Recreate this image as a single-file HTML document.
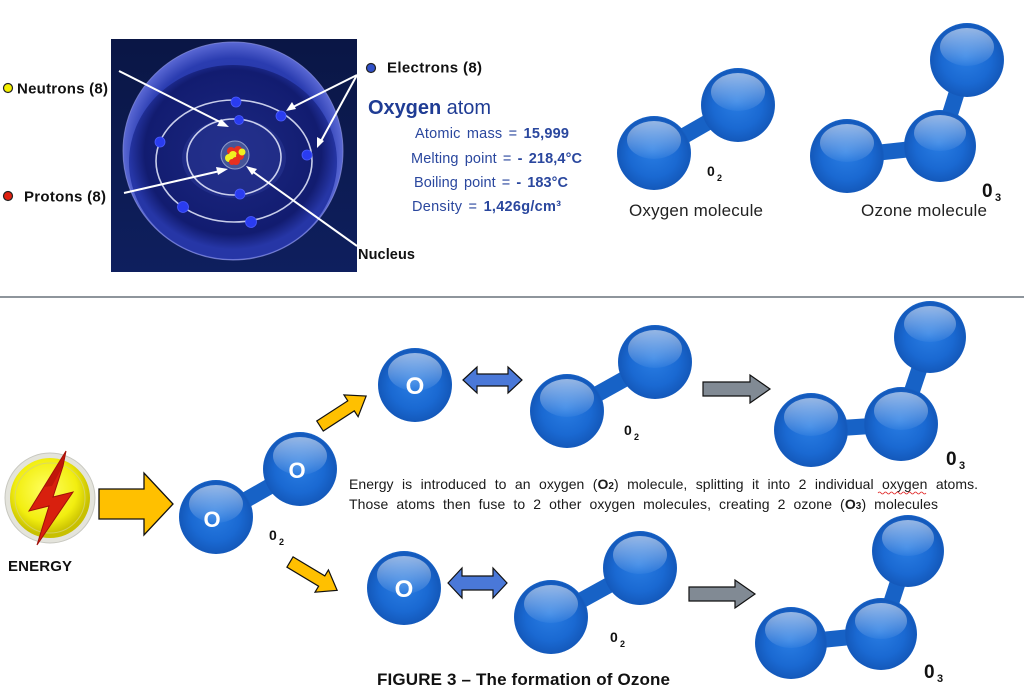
<!DOCTYPE html>
<html><head><meta charset="utf-8">
<style>
html,body{margin:0;padding:0;background:#fff;}
svg{display:block;}
text{font-family:"Liberation Sans",Arial,sans-serif;}
</style></head>
<body>
<svg width="1024" height="698" viewBox="0 0 1024 698" xmlns="http://www.w3.org/2000/svg">
<defs>
  <radialGradient id="sph" cx="50%" cy="52%" r="55%" fx="48%" fy="45%">
    <stop offset="0" stop-color="#2a7ee4"/>
    <stop offset="0.6" stop-color="#1a69d2"/>
    <stop offset="0.88" stop-color="#1459bb"/>
    <stop offset="1" stop-color="#1a6fd8"/>
  </radialGradient>
  <linearGradient id="hl" x1="0" y1="0" x2="0" y2="1">
    <stop offset="0" stop-color="#fff" stop-opacity="0.55"/>
    <stop offset="1" stop-color="#fff" stop-opacity="0.04"/>
  </linearGradient>
  <linearGradient id="bg" x1="0" y1="0" x2="0" y2="1">
    <stop offset="0" stop-color="#0a1645"/>
    <stop offset="1" stop-color="#0e1f5e"/>
  </linearGradient>
  <radialGradient id="bowl" cx="50%" cy="50%" r="50%">
    <stop offset="0" stop-color="#1b2a8c"/>
    <stop offset="0.85" stop-color="#2a3cb0"/>
    <stop offset="1" stop-color="#5a68d4"/>
  </radialGradient>
  <radialGradient id="inner" cx="50%" cy="45%" r="50%">
    <stop offset="0" stop-color="#1c2882"/>
    <stop offset="0.85" stop-color="#121c70"/>
    <stop offset="1" stop-color="#2636a6"/>
  </radialGradient>
  <radialGradient id="yel" cx="45%" cy="40%" r="55%">
    <stop offset="0" stop-color="#ffff60"/>
    <stop offset="0.7" stop-color="#f2ee10"/>
    <stop offset="1" stop-color="#c8c000"/>
  </radialGradient>
  <g id="s37">
    <circle r="37" fill="url(#sph)"/>
    <ellipse cy="-13" rx="27" ry="19" fill="url(#hl)"/>
  </g>
  <g id="s36">
    <circle r="36" fill="url(#sph)"/>
    <ellipse cy="-13" rx="26" ry="18" fill="url(#hl)"/>
  </g>
</defs>

<!-- ===== ATOM IMAGE ===== -->
<rect x="111" y="39" width="246" height="233" fill="url(#bg)"/>
<ellipse cx="233" cy="151" rx="110" ry="109" fill="url(#bowl)" stroke="#8a92e0" stroke-opacity="0.7" stroke-width="1"/>
<ellipse cx="233" cy="162" rx="104" ry="97" fill="url(#inner)"/>
<ellipse cx="234" cy="158" rx="52" ry="40" fill="#2a3794" opacity="0.55"/>
<ellipse cx="234" cy="157" rx="47" ry="38" fill="none" stroke="#e8ecff" stroke-width="1.6" opacity="0.85"/>
<ellipse cx="234" cy="161" rx="78" ry="61" fill="none" stroke="#e8ecff" stroke-width="1.6" opacity="0.85"/>
<g fill="#2a3cf0" stroke="#4a5cff" stroke-width="0.8">
  <circle cx="236" cy="102" r="5"/>
  <circle cx="281" cy="116" r="5"/>
  <circle cx="239" cy="120" r="4.5"/>
  <circle cx="160" cy="142" r="5"/>
  <circle cx="307" cy="155" r="5"/>
  <circle cx="240" cy="194" r="5"/>
  <circle cx="183" cy="207" r="5.5"/>
  <circle cx="251" cy="222" r="5.5"/>
</g>
<circle cx="235" cy="155" r="14" fill="#4a5a9a" stroke="#9aa6d0" stroke-width="1" opacity="0.9"/>
<g>
  <circle cx="231" cy="151" r="4" fill="#e83020"/>
  <circle cx="238" cy="150" r="4" fill="#e83020"/>
  <circle cx="233" cy="155" r="4" fill="#f0f020"/>
  <circle cx="240" cy="156" r="4" fill="#e83020"/>
  <circle cx="229" cy="158" r="4" fill="#f0f020"/>
  <circle cx="236" cy="161" r="4" fill="#e83020"/>
  <circle cx="242" cy="152" r="3.5" fill="#f0f020"/>
  <circle cx="232" cy="162" r="3" fill="#e83020"/>
</g>
<!-- white pointer arrows -->
<g stroke="#fff" stroke-width="2" fill="#fff">
  <line x1="119" y1="71" x2="222" y2="123"/>
  <polygon points="229,127 217,126 221,119" stroke="none"/>
  <line x1="124" y1="193" x2="220" y2="171"/>
  <polygon points="228,169 218,175 216,167" stroke="none"/>
  <line x1="357" y1="246" x2="252" y2="171"/>
  <polygon points="246,166 257,169 252,175" stroke="none"/>
  <line x1="357" y1="75" x2="293" y2="107"/>
  <polygon points="286,111 292,102 296,109" stroke="none"/>
  <line x1="357" y1="75" x2="321" y2="141"/>
  <polygon points="317,148 317,137 324,141" stroke="none"/>
</g>

<!-- atom labels -->
<circle cx="8" cy="88" r="4.5" fill="#f5f000" stroke="#222" stroke-width="1.2"/>
<text x="17" y="93.5" font-size="15" font-weight="bold" fill="#111" textLength="91" lengthAdjust="spacing">Neutrons (8)</text>
<circle cx="8" cy="196" r="4.5" fill="#e02010" stroke="#222" stroke-width="1.2"/>
<text x="24" y="201.5" font-size="15" font-weight="bold" fill="#111" textLength="82" lengthAdjust="spacing">Protons (8)</text>
<circle cx="371" cy="68" r="4.5" fill="#3050c8" stroke="#222" stroke-width="1.2"/>
<text x="387" y="72.5" font-size="15" font-weight="bold" fill="#111" textLength="95" lengthAdjust="spacing">Electrons (8)</text>
<text x="358" y="259" font-size="14.5" font-weight="bold" fill="#111" textLength="57" lengthAdjust="spacing">Nucleus</text>

<text x="368" y="114" font-size="20" fill="#1f3c94" textLength="123" lengthAdjust="spacing"><tspan font-weight="bold">Oxygen</tspan> atom</text>
<g font-size="14.5" fill="#2a479e" word-spacing="2">
  <text x="415" y="138" textLength="154" lengthAdjust="spacing">Atomic mass = <tspan font-weight="bold">15,999</tspan></text>
  <text x="411" y="163" textLength="171" lengthAdjust="spacing">Melting point = <tspan font-weight="bold">- 218,4°C</tspan></text>
  <text x="414" y="187" textLength="154" lengthAdjust="spacing">Boiling point = <tspan font-weight="bold">- 183°C</tspan></text>
  <text x="412" y="211" textLength="149" lengthAdjust="spacing">Density = <tspan font-weight="bold">1,426g/cm³</tspan></text>
</g>

<!-- top O2 -->
<line x1="654" y1="153" x2="738" y2="105" stroke="#1762c6" stroke-width="16"/>
<use href="#s37" x="654" y="153"/>
<use href="#s37" x="738" y="105"/>
<text x="707" y="176" font-size="14" font-weight="bold" fill="#111">0</text>
<text x="717" y="181" font-size="9" font-weight="bold" fill="#111">2</text>
<text x="629" y="216" font-size="17" fill="#222" textLength="134" lengthAdjust="spacing">Oxygen molecule</text>

<!-- top O3 -->
<line x1="847" y1="156" x2="940" y2="146" stroke="#1762c6" stroke-width="16"/>
<line x1="940" y1="146" x2="967" y2="60" stroke="#1762c6" stroke-width="16"/>
<use href="#s37" x="847" y="156"/>
<use href="#s36" x="940" y="146"/>
<use href="#s37" x="967" y="60"/>
<text x="982" y="197" font-size="19" font-weight="bold" fill="#111">0</text>
<text x="995" y="201" font-size="11" font-weight="bold" fill="#111">3</text>
<text x="861" y="216" font-size="17" fill="#222" textLength="126" lengthAdjust="spacing">Ozone molecule</text>

<!-- divider -->
<line x1="0" y1="297" x2="1024" y2="297" stroke="#8e959c" stroke-width="2"/>

<!-- ===== BOTTOM ===== -->
<!-- energy icon -->
<circle cx="50" cy="498" r="45" fill="#e4e4dc" stroke="#c8c8c0" stroke-width="1"/>
<circle cx="50" cy="498" r="40" fill="url(#yel)"/>
<circle cx="50" cy="498" r="35" fill="none" stroke="#d8d470" stroke-width="1" opacity="0.8"/>
<polygon points="66,451 29,511 49,506 37,545 73,492 53,497 63,466" fill="#d8200e" stroke="#a01008" stroke-width="1"/>
<polygon points="66,451 44,487 52,486 63,466" fill="#b01008" opacity="0.6"/>
<text x="8" y="571" font-size="15" font-weight="bold" fill="#111" textLength="64" lengthAdjust="spacing">ENERGY</text>

<!-- big orange arrow -->
<polygon points="99,489 144,489 144,473 173,504 144,535 144,519 99,519" fill="#ffc000" stroke="#111" stroke-width="1.3"/>

<!-- center O2 -->
<line x1="216" y1="517" x2="300" y2="469" stroke="#1762c6" stroke-width="16"/>
<use href="#s37" x="216" y="517"/>
<use href="#s37" x="300" y="469"/>
<text x="212" y="527" font-size="22" font-weight="bold" fill="#fff" text-anchor="middle">O</text>
<text x="297" y="478" font-size="22" font-weight="bold" fill="#fff" text-anchor="middle">O</text>
<text x="269" y="540" font-size="14" font-weight="bold" fill="#111">0</text>
<text x="279" y="545" font-size="9" font-weight="bold" fill="#111">2</text>

<!-- diagonal orange arrows -->
<polygon transform="translate(320,426) rotate(-33)" points="0,-6 37,-6 37,-13 55,0 37,13 37,6 0,6" fill="#ffc000" stroke="#111" stroke-width="1.2"/>
<polygon transform="translate(290,562) rotate(31)" points="0,-6 37,-6 37,-13 55,0 37,13 37,6 0,6" fill="#ffc000" stroke="#111" stroke-width="1.2"/>

<!-- upper row -->
<use href="#s37" x="415" y="385"/>
<text x="415" y="394" font-size="24" font-weight="bold" fill="#fff" text-anchor="middle">O</text>
<polygon points="463,380 477,367 477,374 508,374 508,367 522,380 508,393 508,386 477,386 477,393" fill="#4a78d8" stroke="#111" stroke-width="1.2"/>
<line x1="567" y1="411" x2="655" y2="362" stroke="#1762c6" stroke-width="16"/>
<use href="#s37" x="567" y="411"/>
<use href="#s37" x="655" y="362"/>
<text x="624" y="435" font-size="14" font-weight="bold" fill="#111">0</text>
<text x="634" y="440" font-size="9" font-weight="bold" fill="#111">2</text>
<polygon points="703,382 750,382 750,375 770,389 750,403 750,396 703,396" fill="#818a94" stroke="#111" stroke-width="1.2"/>
<line x1="811" y1="430" x2="901" y2="424" stroke="#1762c6" stroke-width="16"/>
<line x1="901" y1="424" x2="930" y2="337" stroke="#1762c6" stroke-width="16"/>
<use href="#s37" x="811" y="430"/>
<use href="#s37" x="901" y="424"/>
<use href="#s36" x="930" y="337"/>
<text x="946" y="465" font-size="19" font-weight="bold" fill="#111">0</text>
<text x="959" y="469" font-size="11" font-weight="bold" fill="#111">3</text>

<!-- paragraph -->
<text x="349" y="489" font-size="14" fill="#1a1a1a" word-spacing="4.5" textLength="629" lengthAdjust="spacing">Energy is introduced to an oxygen (<tspan font-weight="bold">O<tspan font-size="10">2</tspan></tspan>) molecule, splitting it into 2 individual oxygen atoms.</text>
<path d="M878 493 q1.5 -2 3 0 t3 0 t3 0 t3 0 t3 0 t3 0 t3 0 t3 0 t3 0 t3 0 t3 0 t3 0 t3 0 t3 0 t3 0 t3 0" fill="none" stroke="#e02020" stroke-width="0.8"/>
<text x="349" y="509" font-size="14" fill="#1a1a1a" word-spacing="4" textLength="589" lengthAdjust="spacing">Those atoms then fuse to 2 other oxygen molecules, creating 2 ozone (<tspan font-weight="bold">O<tspan font-size="10">3</tspan></tspan>) molecules</text>

<!-- lower row -->
<use href="#s37" x="404" y="588"/>
<text x="404" y="597" font-size="24" font-weight="bold" fill="#fff" text-anchor="middle">O</text>
<polygon points="448,583 462,568 462,576 493,576 493,568 507,583 493,598 493,590 462,590 462,598" fill="#4a78d8" stroke="#111" stroke-width="1.2"/>
<line x1="551" y1="617" x2="640" y2="568" stroke="#1762c6" stroke-width="16"/>
<use href="#s37" x="551" y="617"/>
<use href="#s37" x="640" y="568"/>
<text x="610" y="642" font-size="14" font-weight="bold" fill="#111">0</text>
<text x="620" y="647" font-size="9" font-weight="bold" fill="#111">2</text>
<polygon points="689,587 735,587 735,580 755,594 735,608 735,601 689,601" fill="#818a94" stroke="#111" stroke-width="1.2"/>
<line x1="791" y1="643" x2="881" y2="634" stroke="#1762c6" stroke-width="16"/>
<line x1="881" y1="634" x2="908" y2="551" stroke="#1762c6" stroke-width="16"/>
<use href="#s36" x="791" y="643"/>
<use href="#s36" x="881" y="634"/>
<use href="#s36" x="908" y="551"/>
<text x="924" y="678" font-size="19" font-weight="bold" fill="#111">0</text>
<text x="937" y="682" font-size="11" font-weight="bold" fill="#111">3</text>

<!-- caption -->
<text x="377" y="685" font-size="17" font-weight="bold" fill="#111" textLength="293" lengthAdjust="spacing">FIGURE 3 – The formation of Ozone</text>
</svg>
</body></html>
